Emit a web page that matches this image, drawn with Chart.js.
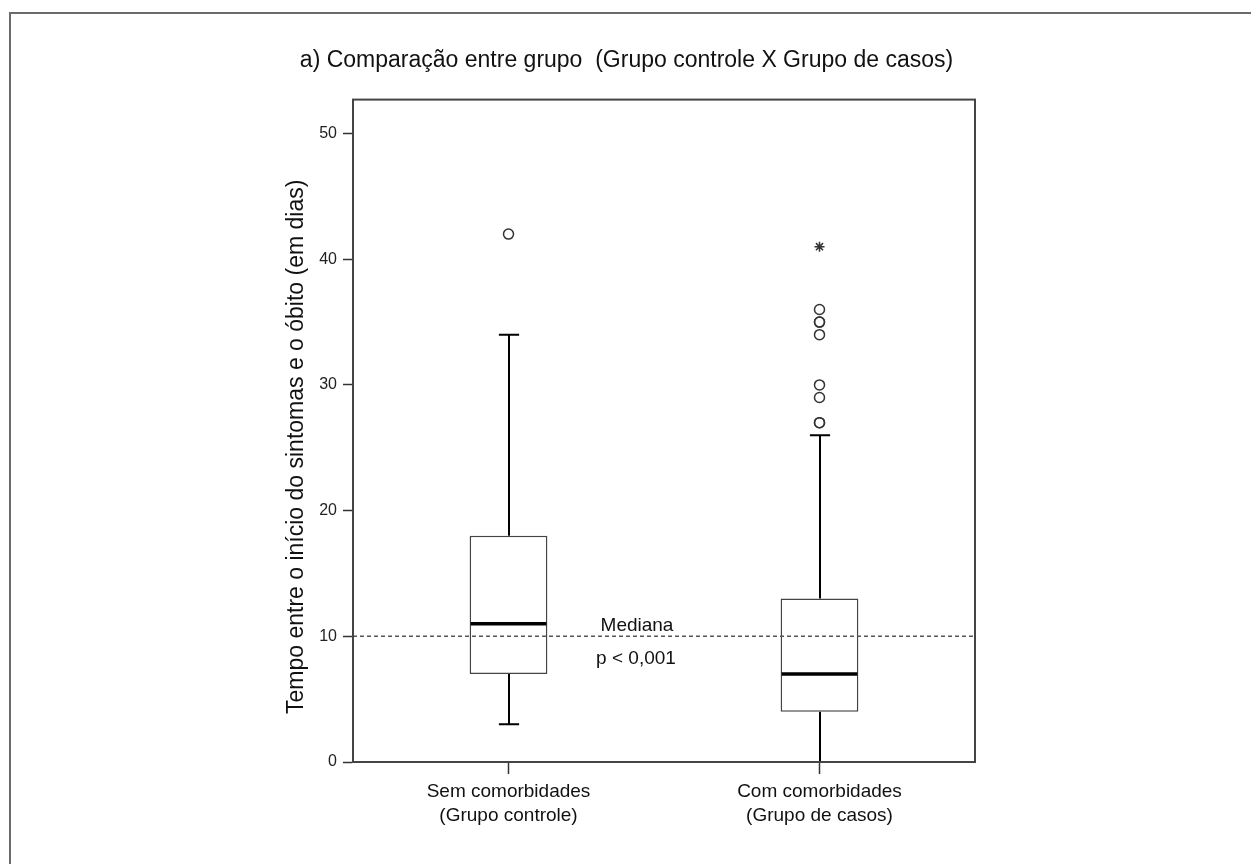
<!DOCTYPE html>
<html>
<head>
<meta charset="utf-8">
<script src="https://cdn.jsdelivr.net/npm/chart.js@4/dist/chart.umd.min.js"></script>
<style>
  html, body { margin: 0; padding: 0; background: #fff; }
  #wrap { width: 1251px; height: 864px; position: relative; }
</style>
</head>
<body>
<div id="wrap"><canvas id="boxChart"></canvas></div>
<script>
// data
const categories = ['Sem comorbidades (Grupo controle)', 'Com comorbidades (Grupo de casos)'];
const categoryLines = [['Sem comorbidades', '(Grupo controle)'], ['Com comorbidades', '(Grupo de casos)']];
const lowerWhisker = [3, 0];
const q1 = [7, 4];
const medians = [11, 7];
const q3 = [18, 13];
const upperWhisker = [34, 26];
const outliers = [[42], [27, 27, 29, 30, 34, 35, 35, 36]];
const extremes = [[], [41]];
const yTicks = [0, 10, 20, 30, 40, 50];
const referenceValue = 10;

const FONT = "'Liberation Sans', Arial, sans-serif";

const outlierPoints = [];
outliers.forEach((list, i) => list.forEach(v => outlierPoints.push({x: categories[i], y: v})));
const extremePoints = [];
extremes.forEach((list, i) => list.forEach(v => extremePoints.push({x: categories[i], y: v})));

// draws whiskers, medians, reference line, notes, frame
const boxExtras = {
  id: 'boxExtras',
  beforeDraw(chart) {
    const ctx = chart.ctx;
    ctx.save();
    ctx.fillStyle = '#fff';
    ctx.fillRect(0, 0, chart.width, chart.height);
    // page border (top + left)
    ctx.strokeStyle = '#6b6b6b';
    ctx.lineWidth = 2;
    ctx.beginPath();
    ctx.moveTo(chart.width, 13);
    ctx.lineTo(10, 13);
    ctx.lineTo(10, chart.height);
    ctx.stroke();
    // y axis title
    const a = chart.chartArea;
    ctx.translate(297, (a.top + a.bottom) / 2 + 16);
    ctx.rotate(-Math.PI / 2);
    ctx.fillStyle = '#111';
    ctx.font = '23px ' + FONT;
    ctx.textAlign = 'center';
    ctx.textBaseline = 'middle';
    ctx.fillText('Tempo entre o início do sintomas e o óbito (em dias)', 0, 0);
    ctx.restore();
  },
  beforeDatasetsDraw(chart) {
    const {ctx, scales: {x, y}} = chart;
    const boxW = chart.getDatasetMeta(0).data[0].width;
    const capW = boxW * 0.26;
    ctx.save();
    ctx.strokeStyle = '#000';
    ctx.lineWidth = 2;
    categories.forEach((c, i) => {
      const cx = Math.round(x.getPixelForValue(i));
      ctx.beginPath();
      ctx.moveTo(cx, y.getPixelForValue(q3[i]));
      ctx.lineTo(cx, y.getPixelForValue(upperWhisker[i]));
      ctx.moveTo(cx, y.getPixelForValue(q1[i]));
      ctx.lineTo(cx, y.getPixelForValue(lowerWhisker[i]));
      ctx.moveTo(cx - capW / 2, y.getPixelForValue(upperWhisker[i]));
      ctx.lineTo(cx + capW / 2, y.getPixelForValue(upperWhisker[i]));
      ctx.moveTo(cx - capW / 2, y.getPixelForValue(lowerWhisker[i]));
      ctx.lineTo(cx + capW / 2, y.getPixelForValue(lowerWhisker[i]));
      ctx.stroke();
    });
    ctx.restore();
  },
  afterDatasetsDraw(chart) {
    const {ctx, chartArea: a, scales: {x, y}} = chart;
    const boxW = chart.getDatasetMeta(0).data[0].width;
    ctx.save();
    // medians
    ctx.strokeStyle = '#000';
    ctx.lineWidth = 3.5;
    categories.forEach((c, i) => {
      const cx = x.getPixelForValue(i);
      const my = y.getPixelForValue(medians[i]);
      ctx.beginPath();
      ctx.moveTo(cx - boxW / 2 + 1, my);
      ctx.lineTo(cx + boxW / 2 - 1, my);
      ctx.stroke();
    });
    // reference line
    const ry = y.getPixelForValue(referenceValue);
    ctx.strokeStyle = '#555';
    ctx.lineWidth = 1.5;
    ctx.setLineDash([4, 3]);
    ctx.beginPath();
    ctx.moveTo(a.left, ry);
    ctx.lineTo(a.right, ry);
    ctx.stroke();
    ctx.setLineDash([]);
    // notes
    const mx = (x.getPixelForValue(0) + x.getPixelForValue(1)) / 2;
    ctx.fillStyle = '#111';
    ctx.font = '19px ' + FONT;
    ctx.textAlign = 'center';
    ctx.textBaseline = 'middle';
    ctx.fillText('Mediana', mx - 27, ry - 11);
    ctx.fillText('p < 0,001', mx - 28, ry + 22);
    // plot frame
    ctx.strokeStyle = '#444';
    ctx.lineWidth = 2;
    ctx.strokeRect(a.left, a.top, a.right - a.left, a.bottom - a.top);
    ctx.restore();
  }
};

const data = {
  labels: categories,
  datasets: [
    {
      type: 'bar',
      label: 'box',
      data: q1.map((v, i) => [v, q3[i]]),
      backgroundColor: '#fff',
      borderColor: '#444',
      borderWidth: 1.5,
      borderSkipped: false,
      barPercentage: 0.25,
      categoryPercentage: 1,
      grouped: false,
      order: 2
    },
    {
      type: 'line',
      label: 'outliers',
      data: outlierPoints,
      showLine: false,
      pointStyle: 'circle',
      pointRadius: 5,
      pointBorderWidth: 1.5,
      pointBorderColor: '#333',
      pointBackgroundColor: 'rgba(255,255,255,0)',
      order: 1
    },
    {
      type: 'line',
      label: 'extremes',
      data: extremePoints,
      showLine: false,
      pointStyle: 'star',
      pointRadius: 5,
      pointBorderWidth: 1.5,
      pointBorderColor: '#333',
      order: 1
    }
  ]
};

const config = {
  type: 'bar',
  data,
  options: {
    responsive: true,
    maintainAspectRatio: false,
    animation: false,
    layout: { padding: { left: 278, right: 276, top: 0, bottom: 0 } },
    plugins: {
      legend: { display: false },
      tooltip: { enabled: false },
      title: {
        display: true,
        text: 'a) Comparação entre grupo  (Grupo controle X Grupo de casos)',
        color: '#111',
        font: { family: FONT, size: 23, weight: 'normal' },
        padding: { top: 47, bottom: 25 }
      }
    },
    scales: {
      x: {
        type: 'category',
        offset: true,
        grid: { display: true, drawOnChartArea: false, offset: false, tickLength: 12, tickColor: '#333', tickWidth: 1.5 },
        border: { display: true, color: '#444', width: 2 },
        ticks: {
          color: '#111',
          font: { family: FONT, size: 19, lineHeight: 1.3 },
          padding: 5,
          maxRotation: 0,
          callback: (v, i) => categoryLines[i]
        },
        afterFit: (s) => { s.height = 102; }
      },
      y: {
        min: 0,
        max: 52.7,
        afterBuildTicks: (s) => { s.ticks = yTicks.map(v => ({value: v})); },
        grid: { display: true, drawOnChartArea: false, tickLength: 10, tickColor: '#333', tickWidth: 1.5 },
        border: { display: true, color: '#444', width: 2 },
        ticks: { color: '#222', font: { family: FONT, size: 16 }, padding: 6 },
        afterFit: (s) => { s.width = 75; }
      }
    }
  },
  plugins: [boxExtras]
};

const boxChart = new Chart(document.getElementById('boxChart'), config);
</script>
</body>
</html>
